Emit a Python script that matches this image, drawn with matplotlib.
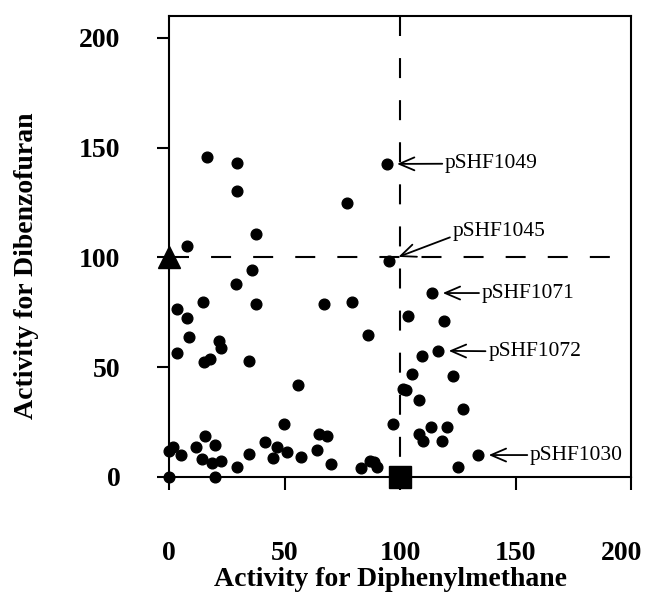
import matplotlib
matplotlib.use("Agg")
import matplotlib.pyplot as plt
from matplotlib.transforms import ScaledTranslation

# clones: activity for diphenylmethane (x) vs dibenzofuran (y), % of control
dpm = [0, 20, 0, 1.6, 5.1, 11.5, 15.6, 19.9, 14.1, 18.8, 22.5, 29.6, 34.6,
       41.6, 44.9, 46.9, 50.9, 49.8, 57.0, 56.0, 63.9, 64.9, 68.3, 70.0,
       83.0, 87.0, 90.2, 88.7, 97.1,
       3.6, 7.7, 8.7, 3.6, 7.7, 14.6, 15.3, 17.7, 21.6, 22.5, 16.6, 29.6,
       29.6, 28.9, 35.8, 37.7, 37.7, 34.6, 67.1, 79.1, 76.9, 86.3, 94.2, 95.1,
       114.0, 103.6, 119.2, 116.6, 109.4, 105.3, 123.1, 101.4, 102.6, 108.2,
       127.1, 108.4, 110.1, 113.3, 120.5, 118.0, 133.9, 125.0]
dbf = [0, 0, 12.0, 13.8, 10.0, 13.8, 18.8, 14.8, 8.2, 6.5, 7.4, 4.4, 10.5,
       15.8, 8.5, 13.5, 11.5, 24.1, 9.2, 42.1, 12.3, 19.8, 18.6, 5.9,
       3.9, 7.4, 4.7, 7.0, 24.0,
       76.7, 72.6, 63.8, 56.7, 105.0, 79.7, 52.6, 53.8, 62.0, 58.8, 145.9, 142.9,
       130.1, 88.0, 94.4, 110.5, 79.0, 52.7, 79.0, 79.7, 124.7, 64.9, 142.6, 98.6,
       83.8, 73.2, 71.0, 57.5, 55.3, 47.1, 46.1, 40.3, 39.5, 35.3,
       30.9, 19.8, 16.5, 22.6, 22.6, 16.5, 10.0, 4.7]

# reference strains
dbf_ref = (0, 100)   # triangle
dpm_ref = (100, 0)   # square

# labelled plasmids: point, label position
plasmids = ["pSHF1049", "pSHF1045", "pSHF1071", "pSHF1072", "pSHF1030"]
plasmid_pts = [(94.2, 142.6), (95.1, 98.6), (114.0, 83.8), (116.6, 57.5), (133.9, 10.0)]
label_pos = [(119.5, 142.7), (122.8, 111.8), (135.4, 83.8), (138.2, 57.3), (156.3, 10.0)]

ticks = [0, 50, 100, 150, 200]

plt.rcParams['font.family'] = ['Liberation Serif', 'DejaVu Serif']

fig = plt.figure(figsize=(6.49, 5.92), dpi=100)
ax = fig.add_axes([169 / 649, 115 / 592, 462 / 649, 461 / 592])
ax.set_xlim(0, 200)
ax.set_ylim(0, 210)

lw = 1.5
# threshold lines, dash pattern starting at top / left
ax.plot([100, 100], [210, 0], color='black', lw=lw, dashes=(9.6, 10.6), zorder=1)
ax.plot([0, 200], [100, 100], color='black', lw=lw, dashes=(9.6, 10.6), zorder=1)

ax.plot(dpm, dbf, 'o', color='black', markersize=7.7, clip_on=False, zorder=3)
ax.plot(*dbf_ref, '^', color='black', markersize=16.5, clip_on=False, zorder=4)
ax.plot(*dpm_ref, 's', color='black', markersize=16, clip_on=False, zorder=4)

for name, pt, pos in zip(plasmids, plasmid_pts, label_pos):
    rel = (0, 0.25) if name == "pSHF1045" else (0, 0.5)
    ax.annotate(name, xy=pt, xytext=pos, textcoords='data',
                ha='left', va='center', fontsize=15.5,
                arrowprops=dict(arrowstyle='->,head_length=0.7,head_width=0.3',
                                color='black', lw=1.3, relpos=rel,
                                shrinkA=0, shrinkB=7.5))

for s in ax.spines.values():
    s.set_linewidth(lw)

ax.set_xticks(ticks)
ax.set_yticks(ticks)
ax.tick_params(axis='both', direction='out', length=9, width=lw, labelsize=20)
ax.tick_params(axis='x', pad=37)
ax.tick_params(axis='y', pad=26)
for lbl in ax.get_xticklabels() + ax.get_yticklabels():
    lbl.set_fontweight('bold')

# last x label nudged left so it stays inside the figure
last = ax.xaxis.get_major_ticks()[-1].label1
last.set_transform(last.get_transform() + ScaledTranslation(-7 / 72, 0, fig.dpi_scale_trans))

ax.set_xlabel('Activity for Diphenylmethane', fontsize=20, fontweight='bold')
ax.set_ylabel('Activity for Dibenzofuran', fontsize=20, fontweight='bold')
ax.xaxis.set_label_coords(0.4805, -0.196)
ax.yaxis.set_label_coords(-0.281, 0.458)

fig.savefig('out.png', dpi=100)
